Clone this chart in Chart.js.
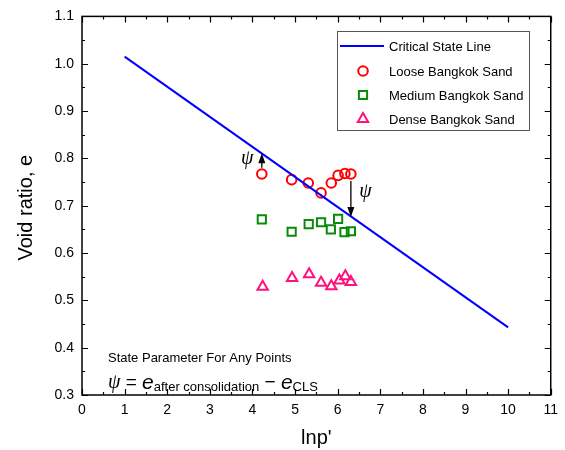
<!DOCTYPE html>
<html>
<head>
<meta charset="utf-8">
<script src="https://cdn.jsdelivr.net/npm/chart.js@4"></script>
<style>
  html, body { margin: 0; padding: 0; background: #fff; }
  #wrap { width: 565px; height: 450px; }
</style>
</head>
<body>
<div id="wrap"><canvas id="csl"></canvas></div>
<script>
// Critical state line (ln p', e)
const cslX = [1, 10];
const cslE = [1.015, 0.443];

// Test points after consolidation
const looseX = [4.22, 4.92, 5.31, 5.61, 5.85, 6.01, 6.17, 6.31];
const looseE = [0.767, 0.755, 0.748, 0.727, 0.748, 0.764, 0.768, 0.767];
const mediumX = [4.22, 4.92, 5.32, 5.61, 5.84, 6.01, 6.16, 6.31];
const mediumE = [0.671, 0.645, 0.661, 0.665, 0.650, 0.672, 0.644, 0.646];
const denseX = [4.24, 4.93, 5.33, 5.61, 5.85, 6.04, 6.18, 6.31];
const denseE = [0.529, 0.547, 0.555, 0.537, 0.530, 0.542, 0.551, 0.539];

// psi arrows: x, start e, end e (arrow head at end)
const arrowX = [4.22, 6.31];
const arrowFrom = [0.780, 0.752];
const arrowTo = [0.811, 0.676];

const seriesNames = ['Critical State Line', 'Loose Bangkok Sand', 'Medium Bangkok Sand', 'Dense Bangkok Sand'];
const xTitle = "lnp'";
const yTitle = 'Void ratio, e';

const toPts = (xs, ys) => xs.map((x, i) => ({ x: x, y: ys[i] }));

const SANS = '"Liberation Sans", Arial, sans-serif';
const SERIF = '"Liberation Serif", "Times New Roman", serif';

// frame, inward ticks, titles, legend and annotations
const decor = {
    id: 'decor',
    afterDraw(chart) {
        const ctx = chart.ctx;
        const a = chart.chartArea;
        const xs = chart.scales.x, ys = chart.scales.y;
        ctx.save();

        // frame
        ctx.strokeStyle = '#000';
        ctx.lineWidth = 1.5;
        ctx.strokeRect(a.left, a.top, a.right - a.left, a.bottom - a.top);

        // ticks
        ctx.lineWidth = 1.2;
        ctx.beginPath();
        for (let i = 0; i <= 22; i++) {
            const px = Math.round(xs.getPixelForValue(i * 0.5)) + 0.5;
            const len = i % 2 === 0 ? 6 : 3;
            ctx.moveTo(px, a.bottom); ctx.lineTo(px, a.bottom - len);
            ctx.moveTo(px, a.top); ctx.lineTo(px, a.top + len);
        }
        for (let i = 0; i <= 16; i++) {
            const py = Math.round(ys.getPixelForValue(0.3 + i * 0.05)) + 0.5;
            const len = i % 2 === 0 ? 6 : 3;
            ctx.moveTo(a.left, py); ctx.lineTo(a.left + len, py);
            ctx.moveTo(a.right, py); ctx.lineTo(a.right - len, py);
        }
        ctx.stroke();

        // axis titles
        ctx.fillStyle = '#000';
        ctx.font = '20px ' + SANS;
        ctx.textAlign = 'center';
        ctx.textBaseline = 'middle';
        ctx.fillText(xTitle, (a.left + a.right) / 2, 438);
        ctx.save();
        ctx.translate(26, (a.top + a.bottom) / 2 + 2);
        ctx.rotate(-Math.PI / 2);
        ctx.fillText(yTitle, 0, 0);
        ctx.restore();

        // psi arrows
        ctx.lineWidth = 1.3;
        arrowX.forEach((xv, i) => {
            const px = xs.getPixelForValue(xv);
            const y0 = ys.getPixelForValue(arrowFrom[i]);
            const y1 = ys.getPixelForValue(arrowTo[i]);
            const dir = y1 < y0 ? 1 : -1;
            ctx.beginPath();
            ctx.moveTo(px, y0); ctx.lineTo(px, y1 + dir * 6);
            ctx.stroke();
            ctx.beginPath();
            ctx.moveTo(px, y1);
            ctx.lineTo(px - 3.5, y1 + dir * 10);
            ctx.lineTo(px + 3.5, y1 + dir * 10);
            ctx.closePath();
            ctx.fill();
        });
        ctx.font = 'italic 20px ' + SERIF;
        ctx.fillText('\u03C8', xs.getPixelForValue(3.88), ys.getPixelForValue(0.799));
        ctx.fillText('\u03C8', xs.getPixelForValue(6.65), ys.getPixelForValue(0.730));

        // state parameter note
        let tx = xs.getPixelForValue(0.61);
        ctx.textAlign = 'left';
        ctx.font = '13px ' + SANS;
        ctx.fillText('State Parameter For Any Points', tx, ys.getPixelForValue(0.378));
        const fy = ys.getPixelForValue(0.326);
        const parts = [
            ['\u03C8', 'italic 20px ' + SERIF, 0],
            [' = ', '19px ' + SANS, 0],
            ['e', 'italic 21px ' + SANS, 0],
            ['after consolidation', '13px ' + SANS, 5],
            [' \u2212 ', '19px ' + SANS, 0],
            ['e', 'italic 21px ' + SANS, 0],
            ['CLS', '13px ' + SANS, 5]
        ];
        parts.forEach(p => {
            ctx.font = p[1];
            ctx.fillText(p[0], tx, fy + p[2]);
            tx += ctx.measureText(p[0]).width;
        });

        // legend
        const lx = 337, ly = 31, lw = 192, lh = 99;
        ctx.fillStyle = '#fff';
        ctx.fillRect(lx, ly, lw, lh);
        ctx.strokeStyle = '#555';
        ctx.lineWidth = 1;
        ctx.strokeRect(lx + 0.5, ly + 0.5, lw, lh);
        const rows = [46, 71, 95, 119];
        chart.data.datasets.forEach((ds, i) => {
            const ry = rows[i];
            if (i === 0) {
                ctx.strokeStyle = ds.borderColor;
                ctx.lineWidth = ds.borderWidth;
                ctx.beginPath();
                ctx.moveTo(340, ry); ctx.lineTo(384, ry);
                ctx.stroke();
            } else {
                ctx.strokeStyle = ds.borderColor;
                ctx.fillStyle = '#fff';
                Chart.helpers.drawPoint(ctx, {
                    pointStyle: ds.pointStyle, radius: ds.pointRadius,
                    rotation: 0, borderWidth: ds.borderWidth
                }, 363, ry);
            }
            ctx.fillStyle = '#000';
            ctx.font = '13px ' + SANS;
            ctx.textAlign = 'left';
            ctx.textBaseline = 'middle';
            ctx.fillText(ds.label, 389, ry + 1);
        });
        ctx.restore();
    }
};

const ctxEl = document.getElementById('csl');
if (ctxEl) {
    new Chart(ctxEl.getContext('2d'), {
        type: 'scatter',
        data: {
            datasets: [
                {
                    type: 'line',
                    label: seriesNames[0],
                    data: toPts(cslX, cslE),
                    borderColor: '#0000ff',
                    borderWidth: 2,
                    pointRadius: 0,
                    fill: false
                },
                {
                    label: seriesNames[1],
                    data: toPts(looseX, looseE),
                    pointStyle: 'circle',
                    pointRadius: 4.8,
                    borderWidth: 2,
                    borderColor: '#ff0000',
                    backgroundColor: 'rgba(255,255,255,0)'
                },
                {
                    label: seriesNames[2],
                    data: toPts(mediumX, mediumE),
                    pointStyle: 'rect',
                    pointRadius: 5.8,
                    borderWidth: 2,
                    borderColor: '#0a8a0a',
                    backgroundColor: 'rgba(255,255,255,0)'
                },
                {
                    label: seriesNames[3],
                    data: toPts(denseX, denseE),
                    pointStyle: 'triangle',
                    pointRadius: 6,
                    borderWidth: 2,
                    borderColor: '#ff1080',
                    backgroundColor: 'rgba(255,255,255,0)'
                }
            ]
        },
        options: {
            responsive: true,
            maintainAspectRatio: false,
            animation: false,
            layout: { padding: { top: 16, right: 12, left: 0, bottom: 0 } },
            plugins: { legend: { display: false }, tooltip: { enabled: false } },
            scales: {
                x: {
                    type: 'linear',
                    min: 0,
                    max: 11,
                    grid: { display: false, drawTicks: false },
                    border: { display: false },
                    ticks: {
                        stepSize: 1,
                        padding: 7,
                        color: '#000',
                        font: { family: SANS, size: 14 }
                    },
                    afterFit: s => { s.height = 55; }
                },
                y: {
                    min: 0.3,
                    max: 1.1,
                    grid: { display: false, drawTicks: false },
                    border: { display: false },
                    ticks: {
                        stepSize: 0.1,
                        padding: 8,
                        color: '#000',
                        font: { family: SANS, size: 14 },
                        callback: v => v.toFixed(1)
                    },
                    afterFit: s => { s.width = 82; }
                }
            }
        },
        plugins: [decor]
    });
} else {
    console.error('Canvas not found');
}
</script>
</body>
</html>
